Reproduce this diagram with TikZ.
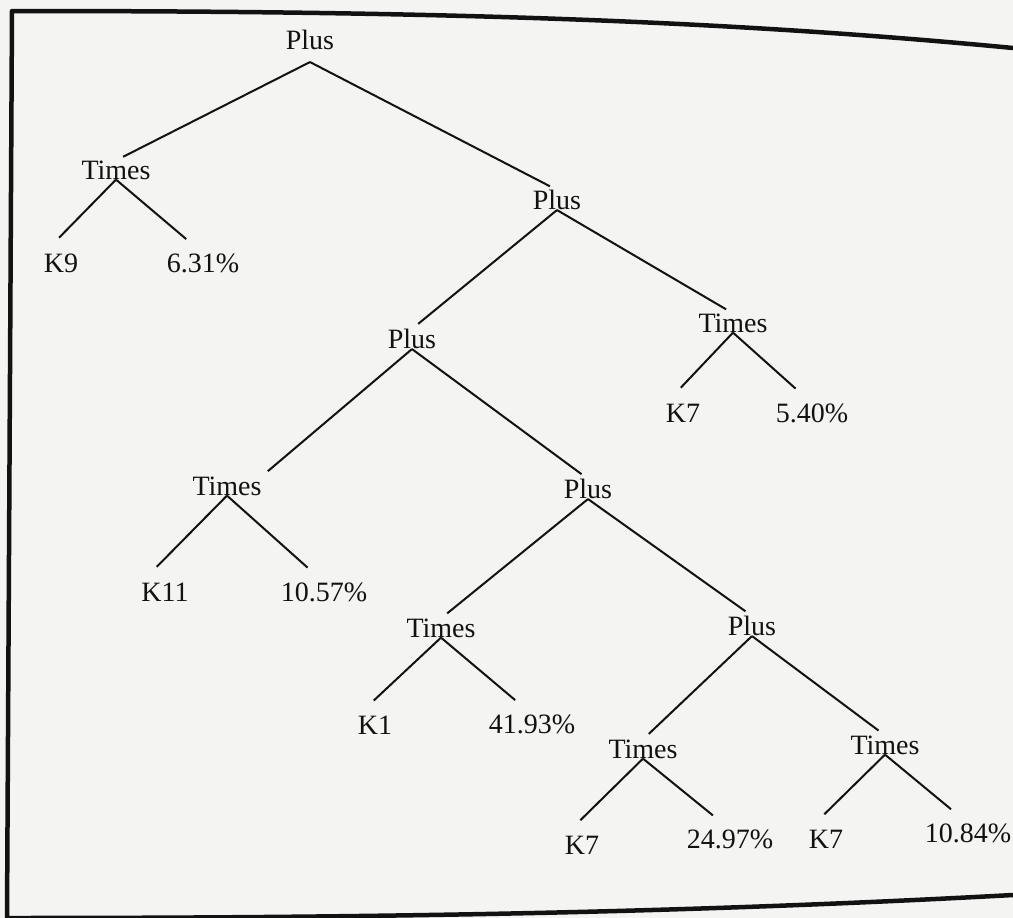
\documentclass[tikz,border=0pt]{standalone}
\usepackage{fontspec}
\setmainfont{Liberation Serif}
\definecolor{paper}{RGB}{244,244,242}
\definecolor{ink}{RGB}{18,18,18}
\tikzset{
  lbl/.style    = {font=\fontsize{28}{31}\selectfont, inner sep=0pt, text=ink},
  branch/.style = {line width=2pt, ink, shorten >=8pt},
  twig/.style   = {line width=2pt, ink, shorten >=22pt},
  frame/.style  = {line width=4.5pt, ink, line join=round},
}

\begin{document}
\begin{tikzpicture}[x=1pt,y=-1pt]
  % page and frame (right side runs off the sheet)
  \fill[paper] (0,0) rectangle (1013,918);
  \useasboundingbox (0,0) rectangle (1013,918);
  \draw[frame] (1013,48) .. controls (700,18) and (400,11) .. (12,11) -- (7,918)
                .. controls (400,918) and (700,912) .. (1013,895);
  % operator nodes
  \node[lbl] (p1) at (310,40)  {Plus};
  \node[lbl] (p2) at (557,200) {Plus};
  \node[lbl] (p3) at (412,339) {Plus};
  \node[lbl] (p4) at (588,489) {Plus};
  \node[lbl] (p5) at (752,626) {Plus};
  \node[lbl] (t1) at (116,170) {Times};
  \node[lbl] (t2) at (733,323) {Times};
  \node[lbl] (t3) at (227,486) {Times};
  \node[lbl] (t4) at (441,628) {Times};
  \node[lbl] (t5) at (643,749) {Times};
  \node[lbl] (t6) at (885,745) {Times};
  % kernels and their weights
  \node[lbl] (k1) at (61,263)  {K9};   \node[lbl] (w1) at (203,263) {6.31\%};
  \node[lbl] (k2) at (683,413) {K7};   \node[lbl] (w2) at (812,413) {5.40\%};
  \node[lbl] (k3) at (165,592) {K11};  \node[lbl] (w3) at (324,592) {10.57\%};
  \node[lbl] (k4) at (375,725) {K1};   \node[lbl] (w4) at (532,724) {41.93\%};
  \node[lbl] (k5) at (582,845) {K7};   \node[lbl] (w5) at (730,839) {24.97\%};
  \node[lbl] (k6) at (826,839) {K7};   \node[lbl] (w6) at (968,833) {10.84\%};
  % tree edges
  \draw[branch] ([yshift=-12pt]p1.south) -- (t1.north);
  \draw[branch] ([yshift=-12pt]p1.south) -- (p2.north);
  \draw[branch] (p2.south) -- (p3.north);
  \draw[branch] (p2.south) -- (t2.north);
  \draw[branch] (p3.south) -- (t3.north east);
  \draw[branch] (p3.south) -- (p4.north);
  \draw[branch] (p4.south) -- (t4.north);
  \draw[branch] (p4.south) -- (p5.north);
  \draw[branch] (p5.south) -- (t5.north);
  \draw[branch] (p5.south) -- (t6.north);
  \foreach \i in {1,...,6} {
    \draw[twig] (t\i.south) -- (k\i.north west);
    \draw[twig] (t\i.south) -- (w\i.north);
  }
\end{tikzpicture}
\end{document}
